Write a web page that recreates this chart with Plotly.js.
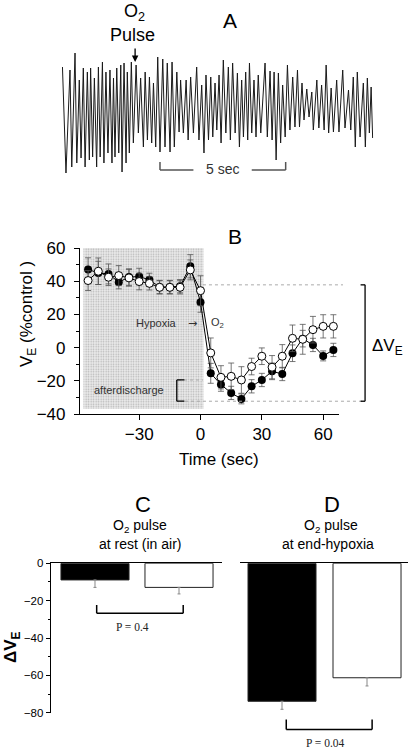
<!DOCTYPE html>
<html><head><meta charset="utf-8">
<script src="https://cdn.plot.ly/plotly-3.0.1.min.js"></script>
<style>html,body{margin:0;padding:0;background:#fff}#chart{width:410px;height:750px}</style>
</head><body><div id="chart"></div>
<script>
// ---------- Panel A: raw ventilation trace (time in s, amplitude in arbitrary units) ----------
const traceT = [0.03,0.13,0.17,0.33,0.40,0.53,0.60,0.70,0.77,0.86,0.93,1.02,1.10,1.15,1.23,1.30,1.39,1.46,1.53,1.62,1.68,1.76,1.84,1.92,2.00,2.06,2.12,2.19,2.27,2.35,2.40,2.48,2.56,2.61,2.69,2.77,2.85,2.96,3.05,3.14,3.25,3.32,3.41,3.49,3.58,3.65,3.74,3.82,3.91,4.02,4.11,4.20,4.31,4.39,4.48,4.58,4.67,4.73,4.84,4.95,5.03,5.13,5.24,5.37,5.46,5.57,5.66,5.74,5.84,5.93,6.01,6.10,6.17,6.26,6.34,6.43,6.53,6.63,6.71,6.80,6.90,6.99,7.07,7.16,7.23,7.32,7.40,7.47,7.56,7.65,7.73,7.82,7.92,8.09,8.18,8.29,8.37,8.45,8.53,8.62,8.71,8.79,8.89,8.98,9.08,9.19,9.28,9.38,9.46,9.56,9.64,9.75,9.84,9.95,10.01,10.15,10.23,10.34,10.44,10.52,10.62,10.72,10.81,10.94,11.03,11.18,11.27,11.41,11.50,11.60,11.68,11.76,11.87,12.00,12.08,12.16,12.24,12.31,12.37];
const traceV = [113,23,7,110,13,127,17,100,22,112,13,108,20,112,23,102,13,113,23,118,17,108,27,110,17,102,23,112,27,115,8,117,17,108,27,118,37,115,47,102,33,108,40,103,37,97,33,123,28,121,33,117,28,118,33,108,48,100,47,100,40,103,47,113,40,95,27,105,40,103,43,97,50,105,37,120,47,113,40,117,47,107,33,100,43,108,40,117,47,100,43,105,47,117,43,109,40,108,20,107,37,95,43,115,50,103,53,110,53,97,60,91,63,88,50,100,52,95,50,115,47,92,48,100,48,110,52,90,50,103,33,108,43,97,33,102,47,93,42];
const o2PulseTime = 2.92;
const scaleBarSec = [3.91, 8.91];

// ---------- Panel B: V_E (% control) vs time ----------
const bTime = [-55,-50,-45,-40,-35,-30,-25,-20,-15,-10,-5,0,5,10,15,20,25,30,35,40,45,50,55,60,65];
const bFilled = [47.1,45,44.4,39.4,42.5,42.8,40.8,36.5,36.5,37,49,27.3,-15.5,-22.3,-27.3,-30.9,-23.3,-19.5,-14.3,-15.9,-3.4,5.4,1.6,-5,-1.4];
const bFilledErr = [7,7,6,4,5,5,4,4,4,4,7,6,6,4,4,3,4,4,5,4,5,5,4,3,4];
const bOpen = [40.4,46,42.4,43.4,42,39.8,38.7,36.3,36.3,36.3,46.8,34.3,-3.2,-17.9,-17.3,-19.5,-11.4,-5.2,-11.8,-5.2,5.6,5.0,10.8,12.8,12.8];
const bOpenErr = [6,8,5,6,5,5,4,4,4,4,6,9,9,7,8,8,5,5,7,7,8,9,8,7,7];
const hypoxiaWindow = [-57.3, 1.4];
const shadeLevels = [-37, 60];
const hypoxiaLevel = 37.8;
const nadirLevel = -32.3;
const afterLevel = -19.5;

// ---------- Panels C & D: delta V_E bars ----------
const barCats = [0, 1];
const cValues = [-8.9, -12.9];
const cErr = [4.0, 3.5];
const dValues = [-73.9, -61.3];
const dErr = [4.3, 4.4];
const cP = 'P = 0.4', dP = 'P = 0.04';

// ---------- layout geometry ----------
const F = 'Arial, "Liberation Sans", sans-serif';
const SERIF = '"Times New Roman", "Liberation Serif", serif';
const B_XR = [-59, 67.6], B_XD = [0.1949, 0.8261];
function bx(t){ return B_XD[0] + (t - B_XR[0]) / (B_XR[1] - B_XR[0]) * (B_XD[1] - B_XD[0]); }

const traces = [
  {x: traceT, y: traceV, xaxis:'x', yaxis:'y', mode:'lines', line:{color:'#1a1a1a', width:1}, hoverinfo:'skip'},
  {x:[hypoxiaWindow[0],hypoxiaWindow[1],hypoxiaWindow[1],hypoxiaWindow[0],hypoxiaWindow[0]],
   y:[shadeLevels[1],shadeLevels[1],shadeLevels[0],shadeLevels[0],shadeLevels[1]],
   xaxis:'x2', yaxis:'y2', mode:'lines', fill:'toself', line:{width:0, color:'rgba(0,0,0,0)'},
   fillcolor:'#e6e6e6',
   fillpattern:{shape:'.', bgcolor:'#ececec', fgcolor:'#b4b4b4', size:2.5, solidity:0.3}, hoverinfo:'skip'},
  {x: bTime, y: bFilled, xaxis:'x2', yaxis:'y2', mode:'lines+markers',
   line:{color:'#000', width:1}, marker:{size:8, color:'#000'},
   error_y:{type:'data', array:bFilledErr, color:'#555', thickness:0.8, width:3}},
  {x: bTime, y: bOpen, xaxis:'x2', yaxis:'y2', mode:'lines+markers',
   line:{color:'#000', width:1}, marker:{size:8, color:'#fff', line:{color:'#000', width:1}},
   error_y:{type:'data', array:bOpenErr, color:'#555', thickness:0.8, width:3}},
  {x: barCats, y: cValues, xaxis:'x3', yaxis:'y3', type:'bar', width:0.81,
   marker:{color:['#000','#fff'], line:{color:'#222', width:1}},
   error_y:{type:'data', symmetric:false, array:[0,0], arrayminus:cErr, color:'#888', thickness:1, width:1.5}},
  {x: barCats, y: dValues, xaxis:'x4', yaxis:'y4', type:'bar', width:0.8,
   marker:{color:['#000','#fff'], line:{color:'#222', width:1}},
   error_y:{type:'data', symmetric:false, array:[0,0], arrayminus:dErr, color:'#888', thickness:1, width:1.5}}
];

const dotLine = {color:'#aaa', width:1, dash:'dot'};
const blk = {color:'#000', width:1.3};
const grey = {color:'#555', width:1.5};
const shapes = [
  {type:'line', xref:'x', yref:'y', x0:scaleBarSec[0], x1:5.24, y0:10, y1:10, line:grey},
  {type:'line', xref:'x', yref:'y', x0:7.56, x1:scaleBarSec[1], y0:10, y1:10, line:grey},
  {type:'line', xref:'x', yref:'y', x0:scaleBarSec[0], x1:scaleBarSec[0], y0:10, y1:18, line:grey},
  {type:'line', xref:'x', yref:'y', x0:scaleBarSec[1], x1:scaleBarSec[1], y0:10, y1:18, line:grey},
  {type:'line', xref:'paper', yref:'y2', x0:bx(1.2), x1:bx(69.7), y0:hypoxiaLevel, y1:hypoxiaLevel, line:dotLine},
  {type:'line', xref:'paper', yref:'y2', x0:bx(-7.6), x1:bx(78.9), y0:nadirLevel, y1:nadirLevel, line:dotLine},
  {type:'line', xref:'x2', yref:'y2', x0:-11, x1:1.2, y0:afterLevel, y1:afterLevel, line:dotLine},
  {type:'line', xref:'x2', yref:'y2', x0:-11.6, x1:-11.6, y0:afterLevel, y1:nadirLevel, line:blk},
  {type:'line', xref:'x2', yref:'y2', x0:-11.6, x1:-7.9, y0:afterLevel, y1:afterLevel, line:blk},
  {type:'line', xref:'x2', yref:'y2', x0:-11.6, x1:-7.9, y0:nadirLevel, y1:nadirLevel, line:blk},
  {type:'line', xref:'paper', yref:'y2', x0:bx(80.5), x1:bx(80.5), y0:hypoxiaLevel, y1:nadirLevel, line:blk},
  {type:'line', xref:'paper', yref:'y2', x0:bx(78.3), x1:bx(80.5), y0:hypoxiaLevel, y1:hypoxiaLevel, line:blk},
  {type:'line', xref:'paper', yref:'y2', x0:bx(78.3), x1:bx(80.5), y0:nadirLevel, y1:nadirLevel, line:blk},
  {type:'line', xref:'x3', yref:'y3', x0:0.02, x1:1.05, y0:-26.8, y1:-26.8, line:{color:'#000', width:1.5}},
  {type:'line', xref:'x3', yref:'y3', x0:0.02, x1:0.02, y0:-26.8, y1:-22.3, line:{color:'#000', width:1.5}},
  {type:'line', xref:'x3', yref:'y3', x0:1.05, x1:1.05, y0:-26.8, y1:-22.3, line:{color:'#000', width:1.5}},
  {type:'line', xref:'x4', yref:'y4', x0:0.05, x1:1.06, y0:-89, y1:-89, line:{color:'#000', width:1.5}},
  {type:'line', xref:'x4', yref:'y4', x0:0.05, x1:0.05, y0:-89, y1:-83.6, line:{color:'#000', width:1.5}},
  {type:'line', xref:'x4', yref:'y4', x0:1.06, x1:1.06, y0:-89, y1:-83.6, line:{color:'#000', width:1.5}}
];

function ann(text, x, y, size, extra){
  return Object.assign({text:text, x:x, y:y, xref:'paper', yref:'paper', showarrow:false,
    xanchor:'center', yanchor:'middle', font:{family:F, size:size, color:'#000'}}, extra||{});
}
const small = {family:F, size:11, color:'#333'};
const annotations = [
  ann('A', 0.561, 0.9733, 21),
  ann('O<sub>2</sub>', 0.329, 0.9827, 18),
  ann('Pulse', 0.324, 0.9533, 18),
  {x:o2PulseTime, y:118, xref:'x', yref:'y', text:'', showarrow:true, ax:0, ay:-15,
   arrowhead:2, arrowsize:1, arrowwidth:1.3, arrowcolor:'#000', standoff:0},
  ann('5 sec', 6.4, 11.5, 14, {xref:'x', yref:'y', font:{family:F, size:14, color:'#333'}}),
  ann('B', 0.573, 0.684, 21),
  ann('V<sub>E</sub> (%control )', 0.0683, 0.5813, 17, {textangle:-90}),
  ann('Time (sec)', 0.533, 0.3867, 17),
  ann('Hypoxia', -21.3, 14.6, 11, {xref:'x2', yref:'y2', font:small}),
  ann('\u2192', -3.9, 14.6, 12, {xref:'x2', yref:'y2', font:{family:'"DejaVu Sans", sans-serif', size:11, color:'#333'}}),
  ann('O<sub>2</sub>', 8.1, 14.6, 11, {xref:'x2', yref:'y2', font:small}),
  ann('afterdischarge', -35, -25.3, 11, {xref:'x2', yref:'y2', font:small}),
  ann('\u0394V<sub>E</sub>', 0.946, 0.5373, 17),
  ann('C', 0.3488, 0.3267, 22),
  ann('D', 0.8098, 0.3267, 22),
  ann('O<sub>2</sub> pulse', 0.3415, 0.2987, 14),
  ann('at rest (in air)', 0.3415, 0.2747, 14),
  ann('O<sub>2</sub> pulse', 0.807, 0.2987, 14),
  ann('at end-hypoxia', 0.80, 0.2747, 14),
  ann('<b>\u0394V<sub>E</sub></b>', 0.0293, 0.1373, 17, {textangle:-90}),
  ann(cP, 0.45, -34.1, 11.5, {xref:'x3', yref:'y3', font:{family:SERIF, size:11.5, color:'#222'}}),
  ann(dP, 0.506, -96.3, 11.5, {xref:'x4', yref:'y4', font:{family:SERIF, size:11.5, color:'#222'}})
];

const hidden = {visible:false, fixedrange:true};
const layout = {
  width:410, height:750, margin:{l:0, r:0, t:0, b:0},
  paper_bgcolor:'#fff', plot_bgcolor:'rgba(0,0,0,0)', showlegend:false,
  font:{family:F, color:'#000'},
  xaxis: Object.assign({domain:[0.1505, 0.9107], range:[0, 12.4], anchor:'y'}, hidden),
  yaxis: Object.assign({domain:[0.76, 0.9333], range:[0, 130], anchor:'x'}, hidden),
  xaxis2:{domain:B_XD, range:B_XR, anchor:'y2', showline:true, linecolor:'#000', linewidth:1,
    ticks:'outside', ticklen:5, tickcolor:'#000', tickvals:[-30,0,30,60], showgrid:false, zeroline:false,
    tickfont:{family:F, size:17}},
  yaxis2:{domain:[0.448, 0.66933], range:[-40, 60], anchor:'x2', showline:true, linecolor:'#000', linewidth:1,
    ticks:'outside', ticklen:5, tickcolor:'#000', tickvals:[-40,-20,0,20,40,60], showgrid:false, zeroline:false,
    minor:{ticks:'outside', ticklen:3, dtick:10, tick0:0, tickcolor:'#000'},
    tickfont:{family:F, size:17}, ticklabelstandoff:5},
  xaxis3:{domain:[0.1237, 0.5407], range:[-0.527, 1.508], anchor:'y3', side:'top', showline:true,
    linecolor:'#000', linewidth:1, ticks:'', showticklabels:false, showgrid:false, zeroline:false},
  yaxis3:{domain:[0.04973, 0.24893], range:[-80, 0], anchor:'x3', showline:true, linecolor:'#000', linewidth:1,
    ticks:'outside', ticklen:4, tickcolor:'#000', tickvals:[0,-20,-40,-60,-80], showgrid:false, zeroline:false,
    minor:{ticks:'outside', ticklen:2, dtick:10, tick0:0, tickcolor:'#000'},
    tickfont:{family:F, size:11.5}},
  xaxis4:{domain:[0.5854, 0.9951], range:[-0.494, 1.482], anchor:'y4', side:'top', showline:true,
    linecolor:'#000', linewidth:1, ticks:'', showticklabels:false, showgrid:false, zeroline:false},
  yaxis4: Object.assign({domain:[0, 0.24893], range:[-100, 0], anchor:'x4'}, hidden),
  shapes: shapes,
  annotations: annotations
};
Plotly.newPlot('chart', traces, layout, {displayModeBar:false, staticPlot:true});
</script>
</body></html>
